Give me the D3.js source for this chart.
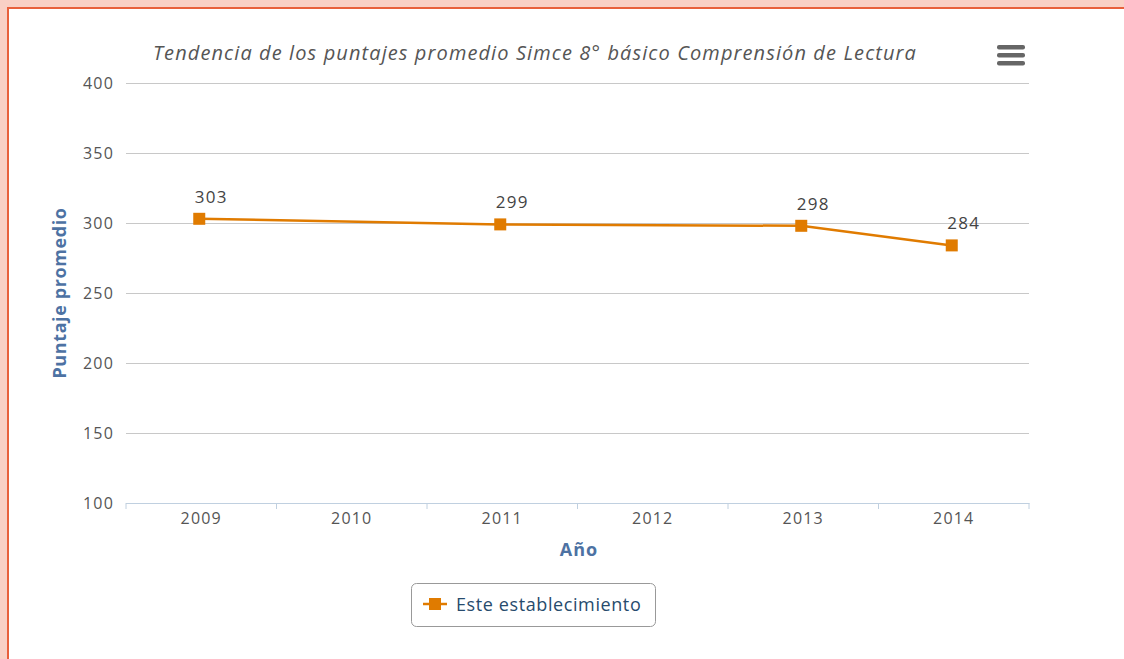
<!DOCTYPE html>
<html>
<head>
<meta charset="utf-8">
<title>Tendencia Simce</title>
<script src="https://cdn.jsdelivr.net/npm/d3@7"></script>
<style>
	body { margin: 0; background: #f9d0c5; }
	#frame {
		position: absolute; left: 7px; top: 7px; width: 1125px; height: 660px;
		background: #fff; border-left: 2px solid #e8603c; border-top: 2px solid #e8603c;
	}
	svg { position: absolute; left: 0; top: 0; }
</style>
</head>
<body>
<div id="frame"></div>
<svg id="chart" width="1124" height="659"></svg>
<script>
	// data
	var years = ["2009", "2010", "2011", "2012", "2013", "2014"];
	var point_years = ["2009", "2011", "2013", "2014"];
	var point_values = [303, 299, 298, 284];
	var y_ticks = [100, 150, 200, 250, 300, 350, 400];

	var svg = d3.select("#chart");
	var x_left = 126, x_right = 1029, y_top = 83, y_bottom = 503;
	var orange = "#e07b00";

	var x_scale = d3.scaleBand().domain(years).range([x_left, x_right]);
	var y_scale = d3.scaleLinear().domain([100, 400]).range([y_bottom, y_top]);

	// title
	svg.append("text")
		.attr("x", 535)
		.attr("y", 60)
		.attr("text-anchor", "middle")
		.attr("font-family", "Open Sans")
		.attr("font-style", "italic")
		.attr("font-size", "20px")
		.attr("letter-spacing", "1.1px")
		.attr("fill", "#555")
		.text("Tendencia de los puntajes promedio Simce 8° básico Comprensión de Lectura");

	// menu icon
	[0, 1, 2].forEach(function(i) {
		svg.append("rect")
			.attr("x", 997).attr("y", 45 + i * 8)
			.attr("width", 28).attr("height", 4.5)
			.attr("rx", 2)
			.attr("fill", "#666");
	});

	// grid lines + y labels
	var y_axis = svg.append("g")
		.attr("transform", "translate(" + x_left + ",0)")
		.call(d3.axisLeft(y_scale).tickValues(y_ticks).tickSize(-(x_right - x_left)).tickPadding(12));
	y_axis.select(".domain").remove();
	y_axis.selectAll(".tick line").attr("stroke", "#c8c8c8");
	y_axis.selectAll(".tick text")
		.attr("font-family", "Open Sans")
		.attr("font-size", "16px")
		.attr("letter-spacing", "1.2px")
		.attr("fill", "#555");

	// x axis
	var x_axis = svg.append("g")
		.attr("transform", "translate(0," + y_bottom + ")")
		.call(d3.axisBottom(x_scale).tickSize(0).tickPadding(7));
	x_axis.select(".domain").attr("stroke", "#c0d0e0");
	x_axis.selectAll(".tick text")
		.attr("dy", "0.9em")
		.attr("font-family", "Open Sans")
		.attr("font-size", "16px")
		.attr("letter-spacing", "1.2px")
		.attr("fill", "#555");
	// boundary ticks
	var bounds = years.map(function(d) { return x_scale(d); }).concat([x_right]);
	svg.selectAll(".xtick")
		.data(bounds)
		.enter()
		.append("line")
		.attr("class", "xtick")
		.attr("x1", function(d) { return d; })
		.attr("x2", function(d) { return d; })
		.attr("y1", y_bottom)
		.attr("y2", y_bottom + 6)
		.attr("stroke", "#c0d0e0");

	// axis titles
	svg.append("text")
		.attr("transform", "translate(66,293) rotate(-90)")
		.attr("text-anchor", "middle")
		.attr("font-family", "Open Sans")
		.attr("font-weight", "bold")
		.attr("font-size", "18px")
		.attr("letter-spacing", "0.6px")
		.attr("fill", "#4d72a3")
		.text("Puntaje promedio");

	svg.append("text")
		.attr("x", 579)
		.attr("y", 556)
		.attr("text-anchor", "middle")
		.attr("font-family", "Open Sans")
		.attr("font-weight", "bold")
		.attr("font-size", "18px")
		.attr("letter-spacing", "1px")
		.attr("fill", "#4d72a3")
		.text("Año");

	// series
	var pts = point_years.map(function(y, i) {
		return { x: x_scale(y) + x_scale.bandwidth() / 2 - 2, y: y_scale(point_values[i]), v: point_values[i] };
	});

	svg.append("path")
		.datum(pts)
		.attr("fill", "none")
		.attr("stroke", orange)
		.attr("stroke-width", 2.5)
		.attr("d", d3.line().x(function(d) { return d.x; }).y(function(d) { return d.y; }));

	svg.selectAll(".marker")
		.data(pts)
		.enter()
		.append("rect")
		.attr("class", "marker")
		.attr("x", function(d) { return d.x - 6; })
		.attr("y", function(d) { return d.y - 6; })
		.attr("width", 12)
		.attr("height", 12)
		.attr("fill", orange);

	svg.selectAll(".label")
		.data(pts)
		.enter()
		.append("text")
		.attr("class", "label")
		.attr("x", function(d) { return d.x + 12; })
		.attr("y", function(d) { return d.y - 16; })
		.attr("text-anchor", "middle")
		.attr("font-family", "Open Sans")
		.attr("font-size", "17px")
		.attr("letter-spacing", "1.2px")
		.attr("fill", "#444")
		.text(function(d) { return d.v; });

	// legend
	var leg = svg.append("g").attr("transform", "translate(411,583)");
	leg.append("rect")
		.attr("x", 0.5).attr("y", 0.5)
		.attr("width", 244).attr("height", 43)
		.attr("rx", 5)
		.attr("fill", "#fff")
		.attr("stroke", "#999");
	leg.append("line")
		.attr("x1", 12).attr("x2", 36)
		.attr("y1", 21).attr("y2", 21)
		.attr("stroke", orange)
		.attr("stroke-width", 2.5);
	leg.append("rect")
		.attr("x", 18).attr("y", 15)
		.attr("width", 12).attr("height", 12)
		.attr("fill", orange);
	leg.append("text")
		.attr("x", 45).attr("y", 28)
		.attr("font-family", "Open Sans")
		.attr("font-size", "18px")
		.attr("letter-spacing", "0.6px")
		.attr("fill", "#274b6d")
		.text("Este establecimiento");
</script>
</body>
</html>
